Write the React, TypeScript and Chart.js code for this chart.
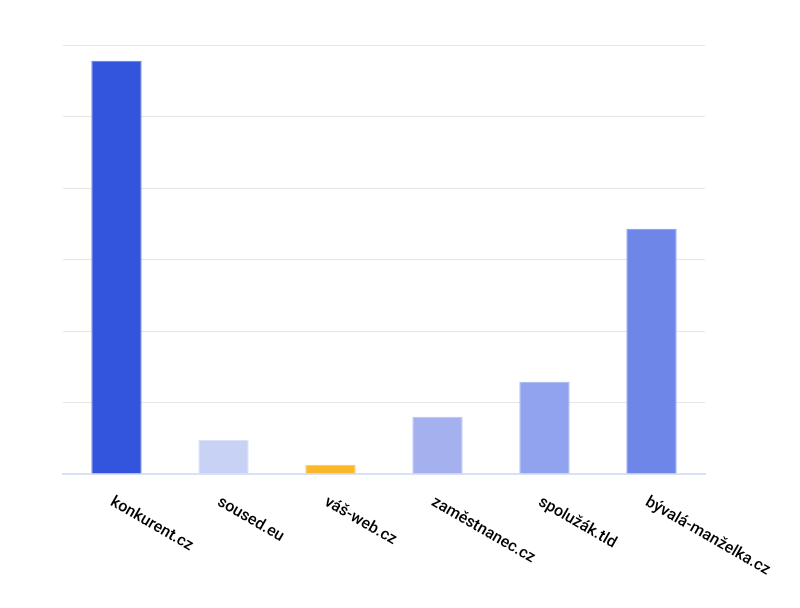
import React, { useEffect, useRef } from "react";
import { Chart, registerables } from "chart.js";

Chart.register(...registerables);

const categories = ["konkurent.cz", "soused.eu", "váš-web.cz", "zaměstnanec.cz", "spolužák.tld", "bývalá-manželka.cz"];
const values = [57.8, 4.8, 1.3, 8.0, 12.9, 34.3];
const barColors = ["#3355dd", "#c8d2f5", "#fbb829", "#a5b1ef", "#91a3ee", "#6d86e8"];
const borderColors = ["#5a78ec", "#d8e0fa", "#fcc655", "#b8c3f3", "#a5b4f2", "#8598ee"];

const labelPlugin = {
  id: "rotLabels",
  afterDraw(chart: any) {
    const ctx = chart.ctx;
    const xs = chart.scales.x;
    const bottom = chart.chartArea.bottom;
    ctx.save();
    ctx.font = "500 16px Roboto";
    ctx.fillStyle = "#000000";
    ctx.textAlign = "left";
    ctx.textBaseline = "top";
    categories.forEach((c, i) => {
      const x = xs.getPixelForValue(i);
      ctx.save();
      ctx.translate(x - 1, bottom + 20);
      ctx.rotate((30 * Math.PI) / 180);
      ctx.fillText(c, 0, 0);
      ctx.restore();
    });
    ctx.restore();
  },
};

export default function App() {
  const ref = useRef<HTMLCanvasElement>(null);
  useEffect(() => {
    const chart = new Chart(ref.current!, {
      type: "bar",
      data: {
        labels: categories,
        datasets: [
          {
            data: values,
            backgroundColor: barColors,
            borderColor: borderColors,
            borderWidth: 1,
            barPercentage: 0.47,
            categoryPercentage: 1,
          },
        ],
      },
      options: {
        animation: false,
        responsive: false,
        maintainAspectRatio: false,
        layout: { padding: { left: 63, right: 95, top: 45, bottom: 134 } },
        plugins: { legend: { display: false }, tooltip: { enabled: false } },
        scales: {
          x: {
            grid: { display: false, drawTicks: false },
            border: { display: true, color: "#d9e1f5", width: 2 },
            ticks: { display: false },
          },
          y: {
            min: 0,
            max: 60,
            ticks: { display: false, stepSize: 10 },
            grid: { color: "#e6e6e6", drawTicks: false, lineWidth: 1 },
            border: { display: false },
          },
        },
      },
      plugins: [labelPlugin],
    });
    return () => chart.destroy();
  }, []);
  return (
    <div style={{ position: "fixed", left: 0, top: 0, width: 800, height: 608, background: "#fff" }}>
      <canvas ref={ref} width={800} height={608} style={{ width: 800, height: 608 }} />
    </div>
  );
}
